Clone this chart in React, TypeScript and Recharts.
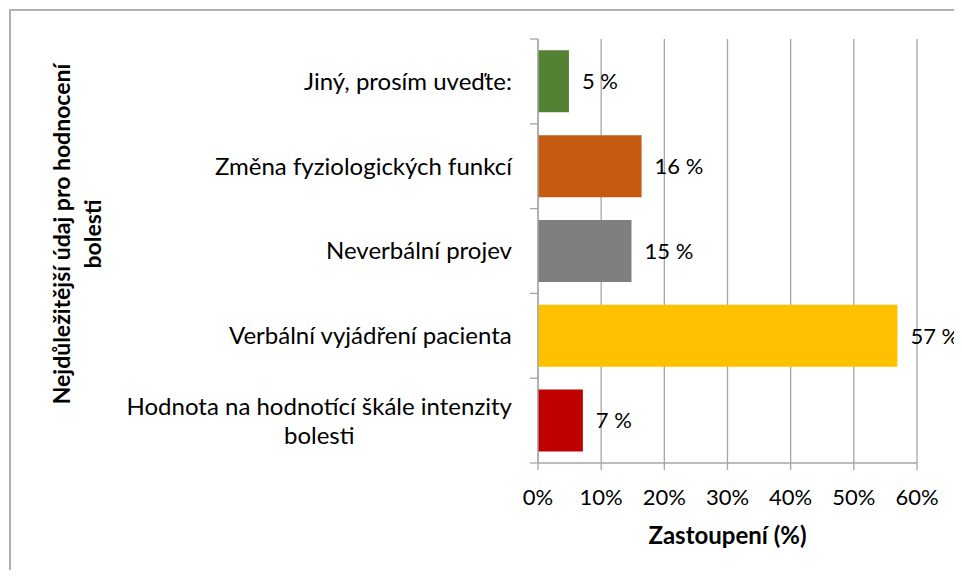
import { BarChart, Bar, XAxis, YAxis, CartesianGrid, Cell, LabelList } from 'recharts';

const categories = [
  'Jiný, prosím uveďte:',
  'Změna fyziologických funkcí',
  'Neverbální projev',
  'Verbální vyjádření pacienta',
  'Hodnota na hodnotící škále intenzity bolesti',
];
const shares = [4.9, 16.4, 14.8, 56.9, 7.1];
const xTicks = [0, 10, 20, 30, 40, 50, 60];

const yTitle = ['Nejdůležitější údaj pro hodnocení', 'bolesti'];
const xTitle = 'Zastoupení (%)';

const palette = ['#548235', '#c55a11', '#7f7f7f', '#ffc000', '#c00000'];

const FONT = 'Lato, "Open Sans", sans-serif';
const AXIS = '#a6a6a6';
const CAT_SIZE = 24;
const CAT_MARGIN = 26;

const data = categories.map((name, i) => ({ name, value: shares[i] }));

let ctx: CanvasRenderingContext2D | null = null;
function textWidth(s: string, font: string) {
  if (!ctx) ctx = document.createElement('canvas').getContext('2d');
  if (!ctx) return s.length * 11;
  ctx.font = font;
  return ctx.measureText(s).width;
}

// wrap a label into lines no wider than maxW
function wrap(label: string, maxW: number, font: string) {
  const words = label.split(' ');
  const lines: string[] = [];
  let cur = '';
  for (const w of words) {
    const next = cur ? cur + ' ' + w : w;
    if (cur && textWidth(next, font) > maxW) {
      lines.push(cur);
      cur = w;
    } else cur = next;
  }
  if (cur) lines.push(cur);
  return lines;
}

// category label, lines centred on each other, block right-aligned;
// also draws Excel-style tick marks on the band edges
const CategoryTick = (props: any) => {
  const { x, y, payload, index, visibleTicksCount } = props;
  const font = `${CAT_SIZE}px Lato`;
  const lines = wrap(payload.value, 410, font);
  const maxW = Math.max(...lines.map((l) => textWidth(l, font)));
  const cx = x - maxW / 2;
  const lh = 29;
  const top = y - ((lines.length - 1) * lh) / 2;
  const ax = x + CAT_MARGIN;
  const half = payload.offset || 0;
  return (
    <g>
      <line x1={ax - 8} x2={ax} y1={y - half} y2={y - half} stroke={AXIS} strokeWidth={1.3} />
      {index === visibleTicksCount - 1 && (
        <line x1={ax - 8} x2={ax} y1={y + half} y2={y + half} stroke={AXIS} strokeWidth={1.3} />
      )}
      <text fontFamily={FONT} fontSize={CAT_SIZE} fill="#000" textAnchor="middle">
        {lines.map((l, i) => (
          <tspan key={i} x={cx} y={top + i * lh} dy="0.35em">
            {l}
          </tspan>
        ))}
      </text>
    </g>
  );
};

const YTitle = () => (
  <text
    transform="translate(70, 234) rotate(-90)"
    fontFamily={FONT}
    fontSize={23}
    fontWeight="bold"
    fill="#000"
    textAnchor="middle"
  >
    <tspan x={0} y={0}>{yTitle[0]}</tspan>
    <tspan x={0} y={31}>{yTitle[1]}</tspan>
  </text>
);

const XTitle = (props: any) => {
  const vb = props.viewBox || {};
  return (
    <text
      x={vb.x + vb.width / 2}
      y={vb.y + 81}
      fontFamily={FONT}
      fontSize={24}
      fontWeight="bold"
      fill="#000"
      textAnchor="middle"
    >
      {xTitle}
    </text>
  );
};

export default function App() {
  return (
    <div style={{ position: 'relative', width: 962, height: 578, margin: -8, background: '#fff' }}>
      <div
        style={{
          position: 'absolute',
          left: 9,
          top: 9,
          right: 0,
          bottom: 0,
          borderTop: '2px solid #b0b0b0',
          borderLeft: '2px solid #b0b0b0',
        }}
      />
      <BarChart
        width={962}
        height={578}
        data={data}
        layout="vertical"
        margin={{ top: 39, right: 45, left: 0, bottom: 25 }}
        barCategoryGap="13.4%"
        style={{ position: 'absolute', left: 0, top: 0 }}
      >
        <CartesianGrid horizontal={false} stroke={AXIS} strokeWidth={1.3} />
        <XAxis
          type="number"
          domain={[0, 60]}
          ticks={xTicks}
          interval={0}
          tickFormatter={(v: number) => `${v}%`}
          tickSize={7}
          tickMargin={19}
          height={90}
          axisLine={{ stroke: AXIS, strokeWidth: 1.3 }}
          tickLine={{ stroke: AXIS, strokeWidth: 1.3 }}
          tick={{ fill: '#000', fontSize: 22, fontFamily: FONT }}
          label={{ content: (p: any) => <XTitle {...p} /> }}
        />
        <YAxis
          type="category"
          dataKey="name"
          width={538}
          interval={0}
          tickLine={false}
          tickSize={0}
          tickMargin={CAT_MARGIN}
          axisLine={{ stroke: AXIS, strokeWidth: 1.3 }}
          tick={<CategoryTick />}
          label={{ content: () => <YTitle /> }}
        />
        <Bar dataKey="value" isAnimationActive={false}>
          {data.map((d, i) => (
            <Cell key={d.name} fill={palette[i]} />
          ))}
          <LabelList
            dataKey="value"
            position="right"
            offset={13}
            formatter={(v: any) => `${Math.round(Number(v))} %`}
            style={{ fill: '#000', fontSize: 22, fontFamily: FONT }}
          />
        </Bar>
      </BarChart>
    </div>
  );
}
